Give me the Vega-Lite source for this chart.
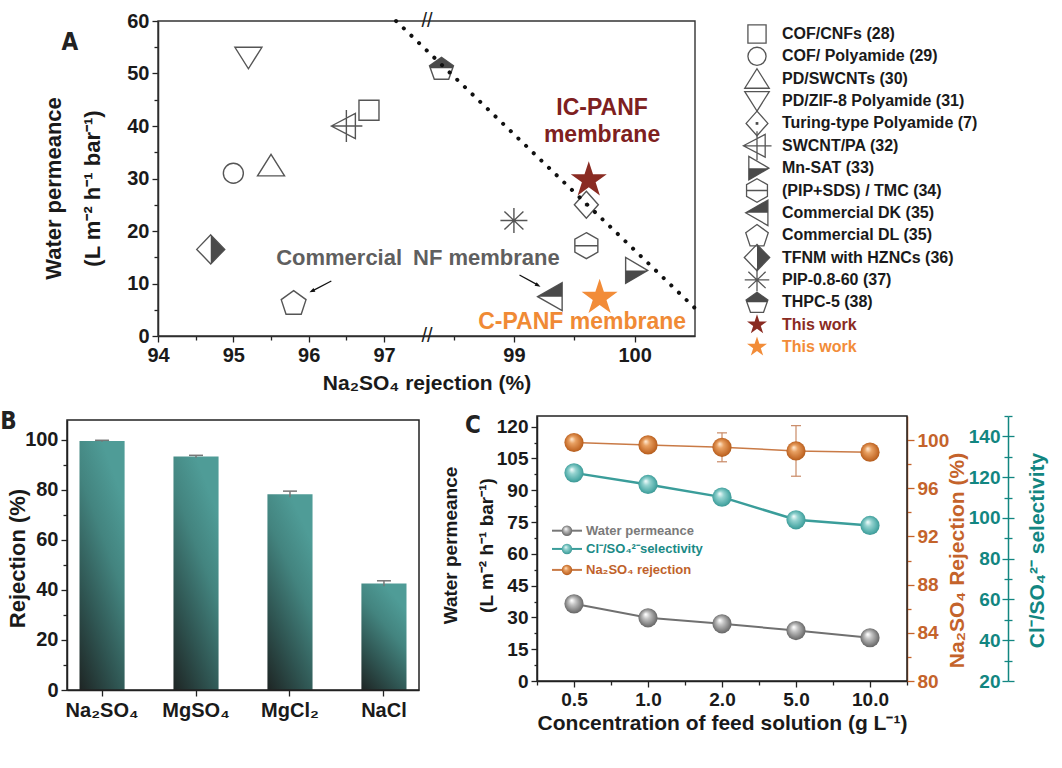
{
"$schema": "https://vega.github.io/schema/vega-lite/v6.json",
"width": 1062, "height": 768, "autosize": {"type": "none"}, "padding": 0, "background": "white",
"data": {"values": [{}]},
"datasets": {
 "refs": [
  {"label": "COF/CNFs (28)", "rank": 1, "rej": 96.8, "perm": 43, "key": "sq", "series": "ref"},
  {"label": "COF/ Polyamide (29)", "rank": 2, "rej": 95.0, "perm": 31, "key": "ci", "series": "ref"},
  {"label": "PD/SWCNTs (30)", "rank": 3, "rej": 95.5, "perm": 32.5, "key": "tu", "series": "ref"},
  {"label": "PD/ZIF-8 Polyamide (31)", "rank": 4, "rej": 95.2, "perm": 53, "key": "td", "series": "ref"},
  {"label": "Turing-type Polyamide (7)", "rank": 5, "rej": 99.6, "perm": 25, "key": "di", "half": "di_h", "series": "ref"},
  {"label": "SWCNT/PA (32)", "rank": 6, "rej": 96.5, "perm": 40, "key": "sw", "series": "ref"},
  {"label": "Mn-SAT (33)", "rank": 7, "rej": 100.0, "perm": 12.5, "key": "mn", "half": "mn_h", "series": "ref"},
  {"label": "(PIP+SDS) / TMC (34)", "rank": 8, "rej": 99.6, "perm": 17.2, "key": "hx", "series": "ref"},
  {"label": "Commercial DK (35)", "rank": 9, "rej": 99.3, "perm": 7.5, "key": "dk", "half": "dk_h", "series": "ref"},
  {"label": "Commercial DL (35)", "rank": 10, "rej": 95.8, "perm": 6.4, "key": "dl", "series": "ref"},
  {"label": "TFNM with HZNCs (36)", "rank": 11, "rej": 94.7, "perm": 16.5, "key": "tf", "half": "tf_h", "series": "ref"},
  {"label": "PIP-0.8-60 (37)", "rank": 12, "rej": 99.0, "perm": 22, "key": "as", "series": "ref"},
  {"label": "THPC-5 (38)", "rank": 13, "rej": 98.4, "perm": 51, "key": "th", "half": "th_h", "series": "ref"},
  {"label": "This work", "rank": 14, "rej": 99.62, "perm": 29.7, "key": "star", "series": "IC"},
  {"label": "This work", "rank": 15, "rej": 99.71, "perm": 7.3, "key": "star", "series": "C"}
 ],
 "boundary": [{"rej": 97.16, "perm": 60}, {"rej": 100.5, "perm": 5.3}],
 "salts": [
  {"salt": "Na₂SO₄", "rej": 99.4, "lo": 99.1, "hi": 99.7},
  {"salt": "MgSO₄", "rej": 93.2, "lo": 92.7, "hi": 93.7},
  {"salt": "MgCl₂", "rej": 78.2, "lo": 77.0, "hi": 79.4},
  {"salt": "NaCl", "rej": 42.5, "lo": 41.4, "hi": 43.6}
 ],
 "conc": [
  {"conc": "0.5", "idx": 1, "perm": 36.4, "sel": 122.1, "rej": 99.8, "rlo": 99.6, "rhi": 100.0},
  {"conc": "1.0", "idx": 2, "perm": 29.8, "sel": 116.4, "rej": 99.6, "rlo": 99.3, "rhi": 99.9},
  {"conc": "2.0", "idx": 3, "perm": 27.0, "sel": 110.2, "rej": 99.4, "rlo": 98.2, "rhi": 100.6},
  {"conc": "5.0", "idx": 4, "perm": 23.8, "sel": 99.1, "rej": 99.1, "rlo": 97.0, "rhi": 101.2},
  {"conc": "10.0", "idx": 5, "perm": 20.4, "sel": 96.3, "rej": 99.0, "rlo": 98.8, "rhi": 99.2}
 ]
},
"config": {
 "view": {"stroke": null},
 "font": "Liberation Sans",
 "point": {"opacity": 1},
 "text": {"fontWeight": "bold"},
 "axis": {"grid": false, "labelFlush": false, "labelOverlap": false, "domainColor": "#222222", "tickColor": "#222222", "domainWidth": 1.5, "tickWidth": 1.3, "labelColor": "#1a1a1a", "titleColor": "#1a1a1a", "labelFont": "Liberation Sans", "titleFont": "Liberation Sans", "labelFontWeight": "bold", "titleFontWeight": "bold", "labelFontSize": 20, "titleFontSize": 21, "labelPadding": 3}
},
"resolve": {"scale": {"x": "independent", "y": "independent"}},
"layer": [
 {"layer": [
  {"mark": {"type": "rect", "filled": false, "color": "#333333", "strokeWidth": 1.4},
   "encoding": {
    "x": {"datum": 94, "type": "quantitative", "scale": {"domain": [94, 97.57, 98.28, 100.5], "range": [158, 427, 427, 695], "nice": false, "zero": false},
      "axis": {"orient": "bottom", "offset": -432, "values": [94, 94.5, 95, 95.5, 96, 96.5, 97, 98.5, 99, 99.5, 100], "labelExpr": "datum.value % 1 === 0 ? format(datum.value, 'd') : ''", "tickSize": {"condition": {"test": "datum.value % 1 === 0", "value": 6}, "value": 4}, "title": "Na₂SO₄ rejection (%)", "titleY": 47, "titleBaseline": "middle", "titleFontSize": 21}},
    "x2": {"datum": 100.5},
    "y": {"datum": 0, "type": "quantitative", "scale": {"domain": [0, 60], "range": [336, 21], "nice": false, "zero": false},
      "axis": {"orient": "left", "offset": -158, "values": [0, 5, 10, 15, 20, 25, 30, 35, 40, 45, 50, 55, 60], "labelExpr": "datum.value % 10 === 0 ? datum.label : ''", "tickSize": {"condition": {"test": "datum.value % 10 === 0", "value": 6}, "value": 4}, "title": ["Water permeance", "(L m⁻² h⁻¹ bar⁻¹)"], "titleX": -105, "titleY": 188, "titleAngle": 270, "titleAlign": "center", "titleBaseline": "middle", "titleLineHeight": 39, "titleFontSize": 22}},
    "y2": {"datum": 60}
   }},
  {"data": {"name": "refs"}, "transform": [{"filter": "datum.key !== 'star'"}],
   "mark": {"type": "point", "filled": false, "color": "#555555", "strokeWidth": 1.4, "size": 400, "opacity": 1},
   "encoding": {
    "x": {"field": "rej", "type": "quantitative"},
    "y": {"field": "perm", "type": "quantitative"},
    "shape": {"field": "key", "type": "nominal", "legend": null, "scale": {
      "domain": ["sq", "ci", "tu", "td", "di", "sw", "mn", "hx", "dk", "dl", "tf", "as", "th", "star", "di_h", "mn_h", "dk_h", "tf_h", "th_h"],
      "range": ["M-1,-1H1V1H-1Z", "circle", "M0,-1.1L1.35,1.05L-1.35,1.05Z", "M0,1.1L1.35,-1.05L-1.35,-1.05Z", "M0,-1.35L1.2,0L0,1.35L-1.2,0Z", "M-1.5,0L0.9,-1.25L0.9,1.25ZM-1.5,0H1.6M0,-1.6V1.6", "M1.3,0L-0.9,-1.3L-0.9,1.3Z", "M0,-1.3L1.15,-0.65L1.15,0.65L0,1.3L-1.15,0.65L-1.15,-0.65ZM-1.15,0H1.15", "M-1.25,0L1.2,-1.4L1.2,1.4Z", "M0,-1.18L1.24,-0.28L0.76,1.18L-0.76,1.18L-1.24,-0.28Z", "M0,-1.45L1.4,0L0,1.45L-1.4,0Z", "M-1.35,0H1.35M0,-1.25V1.25M-0.95,-0.9L0.95,0.9M-0.95,0.9L0.95,-0.9", "M0,-1.1L1.2,-0.25L0.72,1.1L-0.72,1.1L-1.2,-0.25Z", "M0,-1.05L0.236,-0.325L0.999,-0.325L0.381,0.124L0.617,0.85L0,0.401L-0.617,0.85L-0.381,0.124L-0.999,-0.325L-0.236,-0.325Z", "M-0.15,-0.15H0.15V0.15H-0.15Z", "M1.3,0L-0.9,0L-0.9,1.3Z", "M-1.25,0L1.2,-1.4L1.2,0Z", "M0,-1.45L1.4,0L0,1.45Z", "M0,-1.1L1.2,-0.25L1.11,0L-1.11,0L-1.2,-0.25Z"]}}
   }},
  {"data": {"name": "refs"}, "transform": [{"filter": "datum.half != null"}],
   "mark": {"type": "point", "filled": true, "color": "#4a4a4a", "size": 400, "opacity": 1, "strokeWidth": 0},
   "encoding": {"x": {"field": "rej", "type": "quantitative"}, "y": {"field": "perm", "type": "quantitative"}, "shape": {"field": "half", "type": "nominal", "legend": null}}},
  {"data": {"name": "refs"}, "transform": [{"filter": "datum.key === 'star'"}],
   "mark": {"type": "point", "filled": true, "size": 1300, "opacity": 1, "strokeWidth": 0},
   "encoding": {"x": {"field": "rej", "type": "quantitative"}, "y": {"field": "perm", "type": "quantitative"}, "shape": {"field": "key", "type": "nominal", "legend": null},
     "color": {"field": "series", "type": "nominal", "legend": null, "scale": {"domain": ["ref", "IC", "C"], "range": ["#1a1a1a", "#8a2b22", "#f28c38"]}}}},
  {"data": {"name": "boundary"}, "mark": {"type": "line", "color": "#111111", "strokeWidth": 4, "strokeDash": [0.1, 10.5], "strokeCap": "round"},
   "encoding": {"x": {"field": "rej", "type": "quantitative"}, "y": {"field": "perm", "type": "quantitative"}}},
  {"mark": {"type": "text", "text": ["IC-PANF", "membrane"], "fontSize": 23, "fontWeight": "bold", "color": "#7e2020", "lineHeight": 27, "align": "center", "baseline": "middle"},
   "encoding": {"x": {"datum": 99.73}, "y": {"datum": 43.4}}},
  {"mark": {"type": "text", "text": "Commercial\u2002NF membrane", "fontSize": 22, "fontWeight": "bold", "color": "#5f5f5f", "align": "center", "baseline": "middle"},
   "encoding": {"x": {"datum": 97.45}, "y": {"datum": 14.8}}},
  {"mark": {"type": "text", "text": "C-PANF membrane", "fontSize": 23, "fontWeight": "bold", "color": "#f08a35", "align": "center", "baseline": "middle"},
   "encoding": {"x": {"datum": 99.565}, "y": {"datum": 2.7}}},
  {"mark": {"type": "rule", "color": "#111111", "strokeWidth": 1.3}, "encoding": {"x": {"datum": 96.30}, "y": {"datum": 10.48}, "x2": {"datum": 96.05}, "y2": {"datum": 8.6}}},
  {"mark": {"type": "point", "shape": "M0,0L0.6,1.6L-0.6,1.6Z", "filled": true, "color": "#111111", "size": 49, "angle": 243, "opacity": 1}, "encoding": {"x": {"datum": 96.01}, "y": {"datum": 8.32}}},
  {"mark": {"type": "rule", "color": "#111111", "strokeWidth": 1.3}, "encoding": {"x": {"datum": 99.046}, "y": {"datum": 11.62}, "x2": {"datum": 99.2}, "y2": {"datum": 9.7}}},
  {"mark": {"type": "point", "shape": "M0,0L0.6,1.6L-0.6,1.6Z", "filled": true, "color": "#111111", "size": 49, "angle": 119, "opacity": 1}, "encoding": {"x": {"datum": 99.22}, "y": {"datum": 9.39}}},
  {"mark": {"type": "text", "text": "//", "fontSize": 20, "fontWeight": "normal", "color": "#222222", "align": "center", "baseline": "middle"}, "encoding": {"x": {"datum": 97.57}, "y": {"datum": 0}}},
  {"mark": {"type": "text", "text": "//", "fontSize": 20, "fontWeight": "normal", "color": "#222222", "align": "center", "baseline": "middle"}, "encoding": {"x": {"datum": 97.57}, "y": {"datum": 60}}},
  {"mark": {"type": "text", "text": "A", "fontSize": 24, "font": "Liberation Sans Narrow, DejaVu Sans Condensed, Liberation Sans", "fontWeight": "bold", "color": "#222222", "align": "center", "baseline": "middle"}, "encoding": {"x": {"datum": 92.83}, "y": {"datum": 55.8}}}
 ]},
 {"data": {"name": "refs"}, "layer": [
  {"transform": [{"filter": "datum.key !== 'star'"}],
   "mark": {"type": "point", "filled": false, "color": "#555555", "strokeWidth": 1.3, "size": 330, "opacity": 1},
   "encoding": {"x": {"datum": 0, "type": "quantitative", "scale": {"domain": [0, 300], "range": [757, 1057], "nice": false, "zero": false}, "axis": null},
     "y": {"field": "rank", "type": "quantitative", "scale": {"domain": [1, 15], "range": [34, 347], "nice": false, "zero": false}, "axis": null},
     "shape": {"field": "key", "type": "nominal", "legend": null}}},
  {"transform": [{"filter": "datum.half != null"}],
   "mark": {"type": "point", "filled": true, "color": "#4a4a4a", "size": 330, "opacity": 1, "strokeWidth": 0},
   "encoding": {"x": {"datum": 0, "axis": null}, "y": {"field": "rank", "type": "quantitative", "axis": null}, "shape": {"field": "half", "type": "nominal", "legend": null}}},
  {"transform": [{"filter": "datum.key === 'star'"}],
   "mark": {"type": "point", "filled": true, "size": 400, "opacity": 1, "strokeWidth": 0},
   "encoding": {"x": {"datum": 0, "axis": null}, "y": {"field": "rank", "type": "quantitative", "axis": null}, "shape": {"field": "key", "type": "nominal", "legend": null}, "color": {"field": "series", "type": "nominal", "legend": null}}},
  {"mark": {"type": "text", "align": "left", "baseline": "middle", "fontSize": 16, "fontWeight": "bold"},
   "encoding": {"x": {"datum": 25, "axis": null}, "y": {"field": "rank", "type": "quantitative", "axis": null}, "text": {"field": "label"}, "color": {"field": "series", "type": "nominal", "legend": null}}}
 ]},
 {"resolve": {"scale": {"x": "independent", "y": "independent"}}, "layer": [
  {"data": {"name": "salts"}, "layer": [
   {"mark": {"type": "bar", "color": {"gradient": "linear", "x1": 0, "y1": 1, "x2": 0.5, "y2": 0, "stops": [{"offset": 0, "color": "#1e2524"}, {"offset": 0.35, "color": "#2f5552"}, {"offset": 0.7, "color": "#43847f"}, {"offset": 1, "color": "#4f9c97"}]}},
    "encoding": {
     "x": {"field": "salt", "type": "nominal", "sort": null, "scale": {"type": "band", "range": [67, 419], "paddingInner": 0.52, "paddingOuter": 0.133},
       "axis": {"orient": "bottom", "offset": -78, "title": null, "labelAngle": 0, "labelFontSize": 20, "tickSize": 6, "labelPadding": 4}},
     "y": {"field": "rej", "type": "quantitative", "scale": {"domain": [0, 107.8], "range": [690, 420], "nice": false, "zero": false},
       "axis": {"orient": "left", "offset": -67, "values": [0, 10, 20, 30, 40, 50, 60, 70, 80, 90, 100], "labelExpr": "datum.value % 20 === 0 ? datum.label : ''", "tickSize": {"condition": {"test": "datum.value % 20 === 0", "value": 6}, "value": 4}, "title": "Rejection (%)", "titleFontSize": 22, "titleX": -50, "titleY": 558, "titleAngle": 270, "titleAlign": "center", "titleBaseline": "middle"}}
    }},
   {"mark": {"type": "rule", "color": "#777777", "strokeWidth": 1.5},
    "encoding": {"x": {"field": "salt", "type": "nominal", "sort": null}, "y": {"field": "lo", "type": "quantitative"}, "y2": {"field": "hi"}}},
   {"mark": {"type": "point", "shape": "M-1,0H1", "size": 196, "filled": false, "color": "#777777", "strokeWidth": 1.5, "opacity": 1},
    "encoding": {"x": {"field": "salt", "type": "nominal", "sort": null}, "y": {"field": "hi", "type": "quantitative"}}}
  ]},
  {"layer": [
   {"mark": {"type": "rect", "filled": false, "color": "#222222", "strokeWidth": 1.5},
    "encoding": {"x": {"datum": 0, "type": "quantitative", "scale": {"domain": [0, 1], "range": [67, 419], "nice": false, "zero": false}, "axis": null}, "x2": {"datum": 1},
      "y": {"datum": 0, "type": "quantitative", "scale": {"domain": [0, 107.8], "range": [690, 420], "nice": false, "zero": false}, "axis": null}, "y2": {"datum": 107.8}}},
   {"mark": {"type": "text", "text": "B", "fontSize": 24, "font": "Liberation Sans Narrow, DejaVu Sans Condensed, Liberation Sans", "fontWeight": "bold", "color": "#222222", "align": "center", "baseline": "middle"},
    "encoding": {"x": {"datum": -0.166, "axis": null}, "y": {"datum": 107, "axis": null}}}
  ]}
 ]},
 {"data": {"name": "conc"}, "resolve": {"scale": {"y": "independent"}}, "layer": [
  {"layer": [
   {"data": {"values": [{}]}, "mark": {"type": "rect", "filled": false, "color": "#222222", "strokeWidth": 1.5},
    "encoding": {
     "x": {"datum": 0.5, "type": "quantitative", "scale": {"domain": [0.5, 5.5], "range": [537, 907], "nice": false, "zero": false},
       "axis": {"orient": "bottom", "offset": -87, "values": [0.5, 1, 1.5, 2, 2.5, 3, 3.5, 4, 4.5, 5, 5.5], "labelExpr": "datum.value % 1 === 0 ? ['0.5','1.0','2.0','5.0','10.0'][datum.value - 1] : ''", "tickSize": {"condition": {"test": "datum.value % 1 === 0", "value": 6}, "value": 4}, "labelFontSize": 19, "title": "Concentration of feed solution (g L⁻¹)", "titleY": 42, "titleBaseline": "middle", "titleFontSize": 21}},
     "x2": {"datum": 5.5},
     "y": {"datum": 0, "type": "quantitative", "scale": {"domain": [0, 125], "range": [681, 416], "nice": false, "zero": false},
       "axis": {"orient": "left", "offset": -537, "values": [0, 7.5, 15, 22.5, 30, 37.5, 45, 52.5, 60, 67.5, 75, 82.5, 90, 97.5, 105, 112.5, 120], "labelExpr": "datum.value % 15 === 0 ? datum.label : ''", "tickSize": {"condition": {"test": "datum.value % 15 === 0", "value": 6}, "value": 3}, "labelFontSize": 19, "title": ["Water permeance", "(L m⁻² h⁻¹ bar⁻¹)"], "titleX": -87, "titleY": 545, "titleAngle": 270, "titleAlign": "center", "titleBaseline": "middle", "titleLineHeight": 36, "titleFontSize": 19}},
     "y2": {"datum": 125}}},
   {"mark": {"type": "line", "color": "#707070", "strokeWidth": 2}, "encoding": {"x": {"field": "idx", "type": "quantitative"}, "y": {"field": "perm", "type": "quantitative"}}},
   {"mark": {"type": "point", "shape": "circle", "filled": true, "size": 370, "opacity": 1, "strokeWidth": 0, "fill": {"gradient": "radial", "x1": 0.38, "y1": 0.32, "r1": 0.02, "x2": 0.5, "y2": 0.5, "r2": 0.55, "stops": [{"offset": 0, "color": "#ffffff"}, {"offset": 0.3, "color": "#c4c4c4"}, {"offset": 0.8, "color": "#787878"}, {"offset": 1, "color": "#5a5a5a"}]}},
    "encoding": {"x": {"field": "idx", "type": "quantitative"}, "y": {"field": "perm", "type": "quantitative"}}},
   {"data": {"values": [{}]}, "mark": {"type": "rule", "color": "#777777", "strokeWidth": 2}, "encoding": {"x": {"datum": 0.703}, "x2": {"datum": 1.108}, "y": {"datum": 70.9}}},
   {"data": {"values": [{}]}, "mark": {"type": "point", "shape": "circle", "filled": true, "size": 110, "opacity": 1, "strokeWidth": 0, "fill": {"gradient": "radial", "x1": 0.38, "y1": 0.32, "r1": 0.02, "x2": 0.5, "y2": 0.5, "r2": 0.55, "stops": [{"offset": 0, "color": "#ffffff"}, {"offset": 0.3, "color": "#c4c4c4"}, {"offset": 0.8, "color": "#787878"}, {"offset": 1, "color": "#5a5a5a"}]}}, "encoding": {"x": {"datum": 0.905}, "y": {"datum": 70.9}}},
   {"data": {"values": [{}]}, "mark": {"type": "text", "text": "Water permeance", "align": "left", "baseline": "middle", "fontSize": 13, "fontWeight": "bold", "color": "#7a7a7a"}, "encoding": {"x": {"datum": 1.162}, "y": {"datum": 70.9}}},
   {"data": {"values": [{}]}, "mark": {"type": "rule", "color": "#3a9d9a", "strokeWidth": 2}, "encoding": {"x": {"datum": 0.703}, "x2": {"datum": 1.108}, "y": {"datum": 62.3}}},
   {"data": {"values": [{}]}, "mark": {"type": "point", "shape": "circle", "filled": true, "size": 110, "opacity": 1, "strokeWidth": 0, "fill": {"gradient": "radial", "x1": 0.38, "y1": 0.32, "r1": 0.02, "x2": 0.5, "y2": 0.5, "r2": 0.55, "stops": [{"offset": 0, "color": "#eefafa"}, {"offset": 0.3, "color": "#95d3d0"}, {"offset": 0.8, "color": "#4aa8a5"}, {"offset": 1, "color": "#388c89"}]}}, "encoding": {"x": {"datum": 0.905}, "y": {"datum": 62.3}}},
   {"data": {"values": [{}]}, "mark": {"type": "text", "text": "Cl⁻/SO₄²⁻selectivity", "align": "left", "baseline": "middle", "fontSize": 13, "fontWeight": "bold", "color": "#1a8a86"}, "encoding": {"x": {"datum": 1.162}, "y": {"datum": 62.3}}},
   {"data": {"values": [{}]}, "mark": {"type": "rule", "color": "#c97a46", "strokeWidth": 2}, "encoding": {"x": {"datum": 0.703}, "x2": {"datum": 1.108}, "y": {"datum": 52.4}}},
   {"data": {"values": [{}]}, "mark": {"type": "point", "shape": "circle", "filled": true, "size": 110, "opacity": 1, "strokeWidth": 0, "fill": {"gradient": "radial", "x1": 0.38, "y1": 0.32, "r1": 0.02, "x2": 0.5, "y2": 0.5, "r2": 0.55, "stops": [{"offset": 0, "color": "#ffe6cc"}, {"offset": 0.3, "color": "#e8a062"}, {"offset": 0.8, "color": "#c46a28"}, {"offset": 1, "color": "#a65418"}]}}, "encoding": {"x": {"datum": 0.905}, "y": {"datum": 52.4}}},
   {"data": {"values": [{}]}, "mark": {"type": "text", "text": "Na₂SO₄ rejection", "align": "left", "baseline": "middle", "fontSize": 13, "fontWeight": "bold", "color": "#c0622a"}, "encoding": {"x": {"datum": 1.162}, "y": {"datum": 52.4}}},
   {"data": {"values": [{}]}, "mark": {"type": "text", "text": "C", "fontSize": 24, "font": "Liberation Sans Narrow, DejaVu Sans Condensed, Liberation Sans", "fontWeight": "bold", "color": "#222222", "align": "center", "baseline": "middle"}, "encoding": {"x": {"datum": -0.365}, "y": {"datum": 120.3}}}
  ]},
  {"layer": [
   {"mark": {"type": "line", "color": "#3a9d9a", "strokeWidth": 2.5},
    "encoding": {"x": {"field": "idx", "type": "quantitative"},
     "y": {"field": "sel", "type": "quantitative", "scale": {"domain": [20, 150], "range": [681, 416], "nice": false, "zero": false},
       "axis": {"orient": "left", "offset": -1008, "values": [20, 30, 40, 50, 60, 70, 80, 90, 100, 110, 120, 130, 140, 150], "labelExpr": "datum.value % 20 === 0 ? datum.label : ''", "tickSize": {"condition": {"test": "datum.value % 20 === 0", "value": 6}, "value": 4}, "labelPadding": 2, "labelFontSize": 19, "domainColor": "#128681", "tickColor": "#128681", "labelColor": "#128681", "titleColor": "#128681", "title": "Cl⁻/SO₄²⁻ selectivity", "titleX": 29, "titleY": 550, "titleAngle": 270, "titleAlign": "center", "titleBaseline": "middle", "titleFontSize": 21}}}},
   {"mark": {"type": "point", "shape": "circle", "filled": true, "size": 370, "opacity": 1, "strokeWidth": 0, "fill": {"gradient": "radial", "x1": 0.38, "y1": 0.32, "r1": 0.02, "x2": 0.5, "y2": 0.5, "r2": 0.55, "stops": [{"offset": 0, "color": "#eefafa"}, {"offset": 0.3, "color": "#95d3d0"}, {"offset": 0.8, "color": "#4aa8a5"}, {"offset": 1, "color": "#388c89"}]}},
    "encoding": {"x": {"field": "idx", "type": "quantitative"}, "y": {"field": "sel", "type": "quantitative"}}}
  ]},
  {"layer": [
   {"mark": {"type": "line", "color": "#c97a46", "strokeWidth": 1.5},
    "encoding": {"x": {"field": "idx", "type": "quantitative"},
     "y": {"field": "rej", "type": "quantitative", "scale": {"domain": [80, 102], "range": [681, 416], "nice": false, "zero": false},
       "axis": {"orient": "right", "offset": -155, "values": [80, 82, 84, 86, 88, 90, 92, 94, 96, 98, 100], "labelExpr": "(datum.value - 80) % 4 === 0 ? datum.label : ''", "tickSize": {"condition": {"test": "(datum.value - 80) % 4 === 0", "value": 7}, "value": 4}, "labelFontSize": 19, "domainColor": "#c4632b", "tickColor": "#c4632b", "labelColor": "#c4632b", "titleColor": "#c4632b", "title": "Na₂SO₄ Rejection (%)", "titleX": 50, "titleY": 560, "titleAngle": 270, "titleAlign": "center", "titleBaseline": "middle", "titleFontSize": 21}}}},
   {"mark": {"type": "rule", "color": "#c98a66", "strokeWidth": 1.2},
    "encoding": {"x": {"field": "idx", "type": "quantitative"}, "y": {"field": "rlo", "type": "quantitative"}, "y2": {"field": "rhi"}}},
   {"mark": {"type": "point", "shape": "M-1,0H1", "size": 100, "filled": false, "color": "#c98a66", "strokeWidth": 1.2, "opacity": 1},
    "encoding": {"x": {"field": "idx", "type": "quantitative"}, "y": {"field": "rhi", "type": "quantitative"}}},
   {"mark": {"type": "point", "shape": "M-1,0H1", "size": 100, "filled": false, "color": "#c98a66", "strokeWidth": 1.2, "opacity": 1},
    "encoding": {"x": {"field": "idx", "type": "quantitative"}, "y": {"field": "rlo", "type": "quantitative"}}},
   {"mark": {"type": "point", "shape": "circle", "filled": true, "size": 370, "opacity": 1, "strokeWidth": 0, "fill": {"gradient": "radial", "x1": 0.38, "y1": 0.32, "r1": 0.02, "x2": 0.5, "y2": 0.5, "r2": 0.55, "stops": [{"offset": 0, "color": "#ffe6cc"}, {"offset": 0.3, "color": "#e8a062"}, {"offset": 0.8, "color": "#c46a28"}, {"offset": 1, "color": "#a65418"}]}},
    "encoding": {"x": {"field": "idx", "type": "quantitative"}, "y": {"field": "rej", "type": "quantitative"}}}
  ]},
  {"data": {"values": [{}]}, "mark": {"type": "point", "opacity": 0},
   "encoding": {"y": {"datum": 50, "type": "quantitative", "scale": {"domain": [20, 150], "range": [681, 416], "nice": false, "zero": false},
     "axis": {"orient": "right", "offset": -54, "values": [20, 30, 40, 50, 60, 70, 80, 90, 100, 110, 120, 130, 140, 150], "labels": false, "domain": false, "title": null, "tickColor": "#128681", "tickSize": {"condition": {"test": "datum.value % 20 === 0", "value": 6}, "value": 4}}}}}
 ]}
]
}
